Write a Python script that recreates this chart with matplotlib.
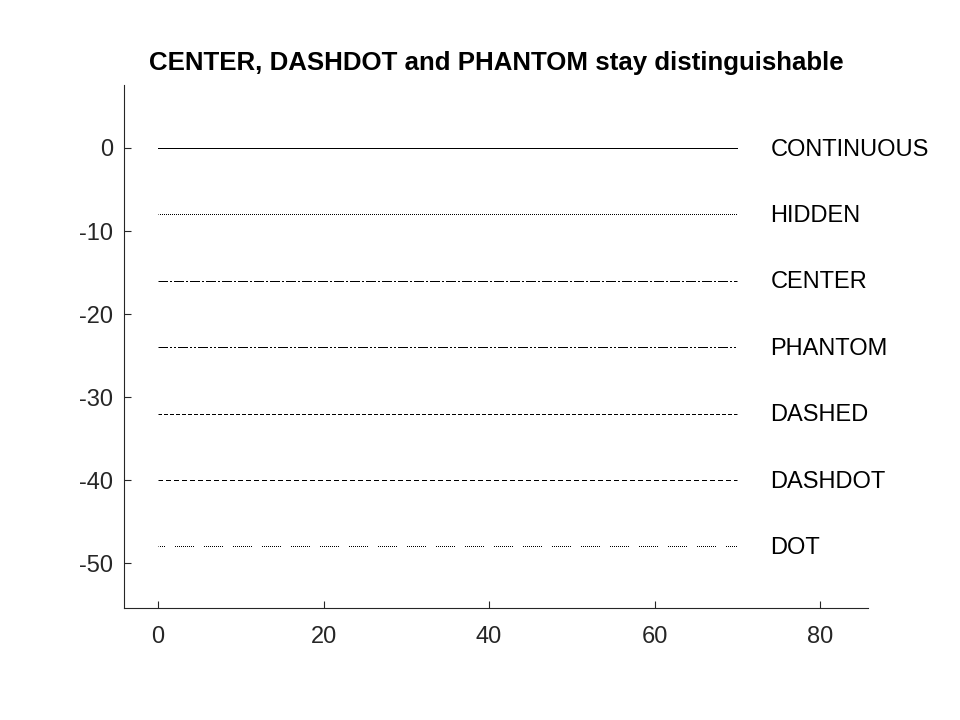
import matplotlib
matplotlib.use("Agg")
import matplotlib.pyplot as plt

plt.rcParams["font.family"] = ["Liberation Sans", "DejaVu Sans"]
plt.rcParams["axes.unicode_minus"] = False
plt.rcParams["lines.scale_dashes"] = False

names = ["CONTINUOUS", "HIDDEN", "CENTER", "PHANTOM", "DASHED", "DASHDOT", "DOT"]
offsets = [0, -8, -16, -24, -32, -40, -48]
x_start, x_end = 0, 70
label_x = 74
xticks = [0, 20, 40, 60, 80]
yticks = [0, -10, -20, -30, -40, -50]

PX = 0.72  # one pixel in points at dpi 100


def px(seq):
    return [v * PX for v in seq]


# half-pixel offsets keep the 1px dashes on whole pixels
dot_cluster = [1, 1] * 9 + [1, 10]
styles = {
    "CONTINUOUS": "-",
    "HIDDEN": (0.5 * PX, px([1, 1])),
    "CENTER": (0.5 * PX, px([10, 2, 2, 2])),
    "PHANTOM": (0.5 * PX, px([10, 2, 2, 2, 2, 2])),
    "DASHED": (0.5 * PX, px([4, 2])),
    "DASHDOT": (0.5 * PX, px([5, 3])),
    "DOT": (12.5 * PX, px(dot_cluster)),
}

W, H = 960, 720
fig = plt.figure(figsize=(W / 100, H / 100), dpi=100)
ax = fig.add_axes([124 / W, (H - 608) / H, 744 / W, 523 / H])

for name, y in zip(names, offsets):
    ax.plot([x_start, x_end], [y, y], color="black", lw=PX, linestyle=styles[name])
    ax.text(label_x, y - 0.2, name, fontsize=17, va="center", ha="left", color="black")

ax.set_xlim(-34 / 8.275, 710 / 8.275)
ax.set_ylim(-460 / 8.3, 63 / 8.3)
ax.set_xticks(xticks)
ax.set_yticks(yticks)
ax.spines["top"].set_visible(False)
ax.spines["right"].set_visible(False)
for s in ("left", "bottom"):
    ax.spines[s].set_color("#262626")
    ax.spines[s].set_linewidth(0.8)
ax.tick_params(direction="in", length=5, width=0.8, color="#262626",
               labelsize=17, labelcolor="#262626")
ax.tick_params(axis="x", pad=13)
ax.tick_params(axis="y", pad=8)
ax.set_title("CENTER, DASHDOT and PHANTOM stay distinguishable",
             fontsize=18.6, fontweight="bold", pad=11)

fig.savefig("out.png", dpi=100)
